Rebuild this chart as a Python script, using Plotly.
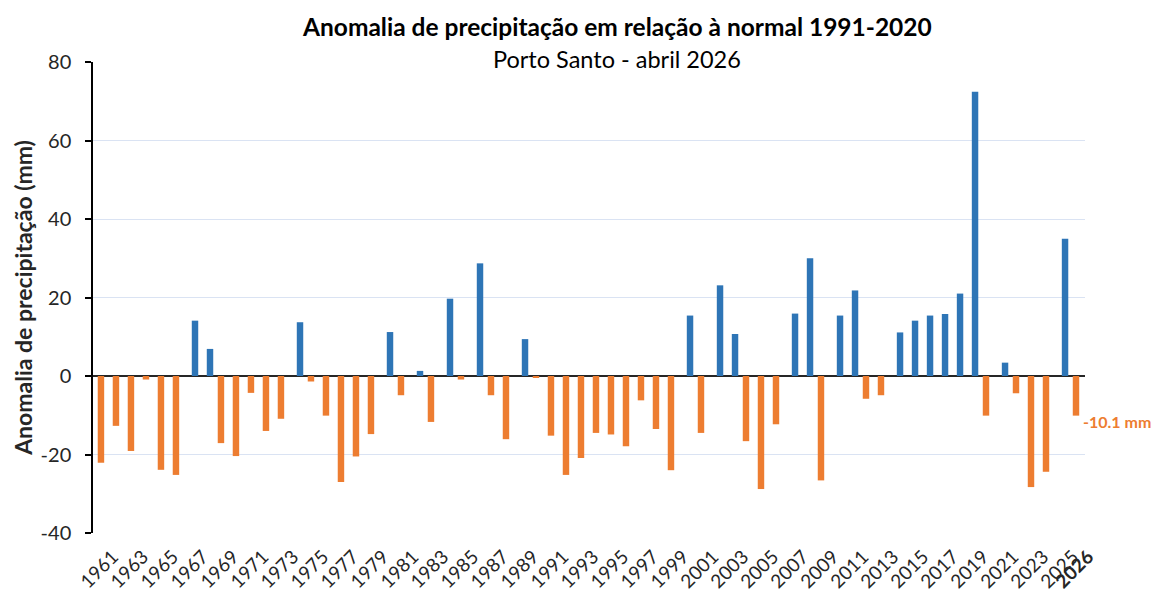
import plotly.graph_objects as go

years = list(range(1961, 2027))
anomaly = [
    -22.1, -12.7, -19.1, -0.9, -23.9, -25.2, 14.1, 6.9, -17.1, -20.4,   # 1961-1970
    -4.3, -14.0, -10.9, 13.7, -1.4, -10.1, -27.0, -20.5, -14.8, 11.2,   # 1971-1980
    -4.9, 1.3, -11.7, 19.7, -0.9, 28.7, -4.9, -16.1, 9.4, -0.5,         # 1981-1990
    -15.2, -25.2, -20.9, -14.5, -14.9, -17.9, -6.2, -13.5, -24.0, 15.4, # 1991-2000
    -14.5, 23.1, 10.7, -16.6, -28.8, -12.3, 15.9, 30.0, -26.6, 15.4,    # 2001-2010
    21.8, -5.8, -4.9, 11.1, 14.1, 15.4, 15.8, 21.0, 72.4, -10.1,        # 2011-2020
    3.4, -4.4, -28.3, -24.4, 35.0, -10.1,                               # 2021-2026
]
tick_years = list(range(1961, 2026, 2)) + [2026]
tick_text = [str(y) for y in range(1961, 2026, 2)] + ["<b>2026</b>"]
y_ticks = [-40, -20, 0, 20, 40, 60, 80]
y_tick_text = [str(v) for v in y_ticks]

title_text = "<b>Anomalia de precipitação em relação à normal 1991-2020</b>"
subtitle_text = "Porto Santo - abril 2026"
y_title = "Anomalia de precipitação (mm)"

BLUE = "#2E75B6"
ORANGE = "#ED7D31"
FONT = "Lato"
TXT = "#262626"

pos_x = [y for y, v in zip(years, anomaly) if v >= 0]
pos_y = [v for v in anomaly if v >= 0]
neg_x = [y for y, v in zip(years, anomaly) if v < 0]
neg_y = [v for v in anomaly if v < 0]

W = 0.43
fig = go.Figure()
fig.add_trace(go.Bar(x=neg_x, y=neg_y, marker_color=ORANGE, width=W, offset=-W / 2,
                     marker_line_width=0, showlegend=False))
fig.add_trace(go.Bar(x=pos_x, y=pos_y, marker_color=BLUE, width=W, offset=-W / 2 + 0.27,
                     marker_line_width=0, showlegend=False))

fig.update_layout(
    width=1155, height=591,
    margin=dict(l=85, r=78, t=54, b=66),
    paper_bgcolor="white", plot_bgcolor="white",
    barmode="overlay",
    font=dict(family=FONT, color=TXT),
    xaxis=dict(
        range=[1960.47, 2026.6], automargin=False,
        tickmode="array", tickvals=tick_years, ticktext=tick_text,
        tickangle=-45, tickfont=dict(size=19, color=TXT, family=FONT),
        ticklabelshift=12, ticklabelstandoff=8,
        showgrid=False, zeroline=False, showline=False, ticks="",
    ),
    yaxis=dict(
        range=[-40, 80], automargin=False,
        tickmode="array", tickvals=y_ticks, ticktext=y_tick_text,
        showgrid=True, gridcolor="#DAE3F3", gridwidth=1,
        zeroline=True, zerolinecolor="#262626", zerolinewidth=1.5,
        showline=True, linecolor="black", linewidth=1.5,
        ticks="outside", ticklen=6, tickcolor="black", tickwidth=1.5,
        ticklabelstandoff=10,
        tickfont=dict(size=20, color=TXT, family=FONT),
        title=dict(text="<b>" + y_title + "</b>", font=dict(size=23, color=TXT, family=FONT), standoff=2),
    ),
    annotations=[
        dict(text=title_text, xref="paper", yref="paper", x=0.528, y=1.0, yshift=36,
             xanchor="center", yanchor="middle", showarrow=False,
             font=dict(size=24.5, color="black", family=FONT)),
        dict(text=subtitle_text, xref="paper", yref="paper", x=0.528, y=1.0, yshift=3,
             xanchor="center", yanchor="middle", showarrow=False,
             font=dict(size=23.5, color="black", family=FONT)),
        dict(text=f"<b>{anomaly[-1]:.1f} mm</b>", xref="paper", yref="y", x=1.0, y=anomaly[-1],
             xanchor="left", yanchor="middle", yshift=-6, xshift=-4, showarrow=False,
             font=dict(size=16, color=ORANGE, family=FONT)),
    ],
)

fig.write_html("out.html")
